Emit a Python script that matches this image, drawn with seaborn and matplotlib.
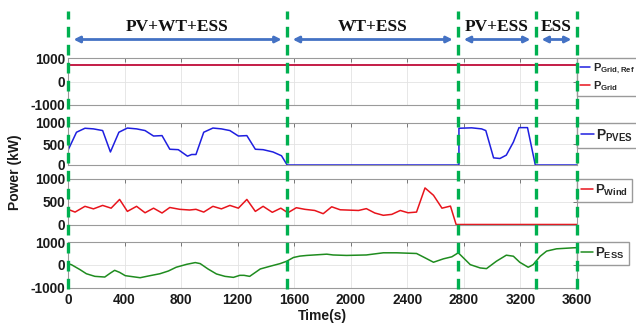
import matplotlib
matplotlib.use('Agg')
import matplotlib.pyplot as plt
import seaborn as sns
import pandas as pd

# operating-mode boundaries (s) and labels
mode_bounds = [0, 1550, 2760, 3310, 3600]
mode_labels = ['PV+WT+ESS', 'WT+ESS', 'PV+ESS', 'ESS']

# grid power
grid_ref_t = [0, 3600]
grid_ref_v = [700, 700]
grid_t = [0, 0, 3600]
grid_v = [-500, 700, 700]

# PV + ESS power
pv_t = [0, 60, 120, 180, 245, 300, 360, 420, 485, 545, 605, 665, 720, 780, 845, 875,
        905, 960, 1025, 1085, 1145, 1205, 1265, 1325, 1380, 1450, 1510, 1550, 2765,
        2765, 2855, 2925, 2955, 3010, 3055, 3100, 3150, 3190, 3250, 3305, 3600]
pv_v = [350, 780, 875, 860, 820, 310, 780, 880, 860, 820, 690, 700, 375, 365, 210, 250,
        250, 780, 880, 860, 820, 690, 700, 375, 365, 310, 220, 0, 0,
        875, 885, 860, 820, 170, 155, 235, 545, 890, 890, 0, 0]

# wind power
wind_t = [0, 50, 120, 180, 245, 305, 365, 420, 485, 545, 605, 665, 720, 790, 860, 905,
          960, 1025, 1085, 1145, 1205, 1265, 1325, 1380, 1445, 1505, 1555, 1615, 1675,
          1745, 1805, 1865, 1925, 2055, 2110, 2170, 2230, 2290, 2350, 2405, 2465, 2525,
          2585, 2645, 2705, 2745, 3600]
wind_v = [330, 270, 395, 340, 415, 355, 545, 285, 395, 255, 355, 250, 370, 330, 315, 330,
          270, 395, 340, 415, 355, 545, 285, 395, 265, 355, 255, 365, 330,
          305, 235, 385, 320, 305, 345, 250, 200, 220, 305, 255, 270, 795,
          635, 355, 400, 0, 0]

# storage power
ess_t = [0, 25, 85, 130, 190, 260, 300, 330, 365, 405, 510, 580, 650, 710, 765, 840, 900,
         935, 990, 1050, 1110, 1170, 1215, 1245, 1285, 1360, 1430, 1500, 1545, 1595, 1640,
         1690, 1830, 1875, 1970, 2110, 2230, 2325, 2465, 2525, 2585, 2655, 2715, 2760, 2785,
         2845, 2915, 2960, 3030, 3100, 3150, 3195, 3255, 3290, 3340, 3385, 3455, 3575, 3600]
ess_v = [50, 0, -215, -395, -510, -540, -365, -245, -335, -480, -570, -480, -395, -275, -110,
         20, 95, 50, -185, -405, -510, -555, -465, -465, -510, -185, -65, 50, 150, 320, 380,
         410, 465, 430, 410, 430, 525, 525, 495, 305, 110, 260, 350, 525, 375,
         5, -140, -170, 155, 420, 375, 110, -110, 5, 375, 600, 700, 745, 750]

x_ticks = list(range(0, 3601, 400))

sns.set_theme(style='whitegrid')
plt.rcParams['font.family'] = ['Liberation Sans', 'DejaVu Sans']
plt.rcParams['font.weight'] = 'bold'
plt.rcParams['axes.unicode_minus'] = False
plt.rcParams['mathtext.fontset'] = 'custom'
plt.rcParams['mathtext.rm'] = 'Liberation Sans:bold'
plt.rcParams['mathtext.bf'] = 'Liberation Sans:bold'

W, H = 636, 325
fig = plt.figure(figsize=(W / 100, H / 100), dpi=100)
left, width = 68 / W, (577 - 68) / W

def panel(top, bottom):
    return fig.add_axes([left, 1 - bottom / H, width, (bottom - top) / H])

def style(ax, ylim, yticks, show_x):
    ax.set_facecolor('white')
    ax.set_xlim(0, 3600)
    ax.set_ylim(*ylim)
    ax.set_xticks(x_ticks)
    ax.set_yticks(yticks)
    ax.set_xlabel('')
    ax.set_ylabel('')
    ax.grid(True, color='#e3e3e3', lw=0.6)
    for s in ax.spines.values():
        s.set_visible(True)
        s.set_color('#9a9a9a')
        s.set_linewidth(0.8)
    ax.tick_params(direction='in', length=3, width=0.7, color='#777777',
                   top=True, right=True, labelsize=9.8, labelcolor='#1a1a1a', pad=2)
    ax.tick_params(axis='x', pad=4)
    if not show_x:
        ax.set_xticklabels([])

def legend(ax, size):
    h, l = ax.get_legend_handles_labels()
    ax.legend(h, l, loc='upper left', bbox_to_anchor=(1.0, 1.0), borderaxespad=0,
              frameon=True, fancybox=False, edgecolor='#9a9a9a', framealpha=1,
              handlelength=0.9, handletextpad=0.2, borderpad=0.3, labelspacing=0.25,
              fontsize=size)

ax1 = panel(58, 105)
ax2 = panel(123, 165)
ax3 = panel(178.5, 224.5)
ax4 = panel(242, 287.5)

sns.lineplot(x=grid_ref_t, y=grid_ref_v, ax=ax1, color='#1f1fe0', lw=1.1, estimator=None,
             sort=False, label=r'$\mathbf{P_{Grid,Ref}}$')
sns.lineplot(x=grid_t, y=grid_v, ax=ax1, color='#e8141c', lw=1.1, estimator=None,
             sort=False, label=r'$\mathbf{P_{Grid}}$')
sns.lineplot(x=pv_t, y=pv_v, ax=ax2, color='#1f1fe0', lw=1.1, estimator=None,
             sort=False, label=r'$\mathbf{P_{PVES}}$')
sns.lineplot(x=wind_t, y=wind_v, ax=ax3, color='#e8141c', lw=1.1, estimator=None,
             sort=False, label=r'$\mathbf{P_{Wind}}$')
sns.lineplot(x=ess_t, y=ess_v, ax=ax4, color='#1f8c1f', lw=1.1, estimator=None,
             sort=False, label=r'$\mathbf{P_{ESS}}$')

style(ax1, (-1000, 1000), [-1000, 0, 1000], False)
style(ax2, (0, 1000), [0, 500, 1000], False)
style(ax3, (0, 1000), [0, 500, 1000], False)
style(ax4, (-1000, 1000), [-1000, 0, 1000], True)
legend(ax1, 8)
legend(ax2, 10)
legend(ax3, 9.5)
legend(ax4, 9.5)

# overlay for mode boundaries, arrows and labels
ov = fig.add_axes([left, 1 - 289 / H, width, (289 - 11) / H])
ov.set_xlim(0, 3600)
ov.set_ylim(0, 1)
ov.axis('off')
ov.set_zorder(20)
for b in mode_bounds:
    ov.axvline(b, color='#00b050', lw=2.4, ls=(0, (3.2, 2.2)), clip_on=False)
arrow_y = (289 - 39.5) / 278
text_y = (289 - 27) / 278
for i, lab in enumerate(mode_labels):
    b0, b1 = mode_bounds[i], mode_bounds[i + 1]
    ov.annotate('', xy=(b1, arrow_y), xytext=(b0, arrow_y),
                arrowprops=dict(arrowstyle='<|-|>', color='#4472c4', lw=2.0,
                                mutation_scale=9, shrinkA=4, shrinkB=4))
    ov.text((b0 + b1) / 2, text_y, lab, ha='center', va='center', fontsize=12.5,
            fontweight='bold', family=['Liberation Serif', 'DejaVu Serif'], color='#111111')

fig.text(15 / W, 1 - 172 / H, 'Power (kW)', rotation=90, ha='center', va='center',
         fontsize=10, fontweight='bold', color='#1a1a1a')
fig.text(322 / W, 1 - 316 / H, 'Time(s)', ha='center', va='center',
         fontsize=10, fontweight='bold', color='#1a1a1a')

fig.savefig('out.png', dpi=100)
